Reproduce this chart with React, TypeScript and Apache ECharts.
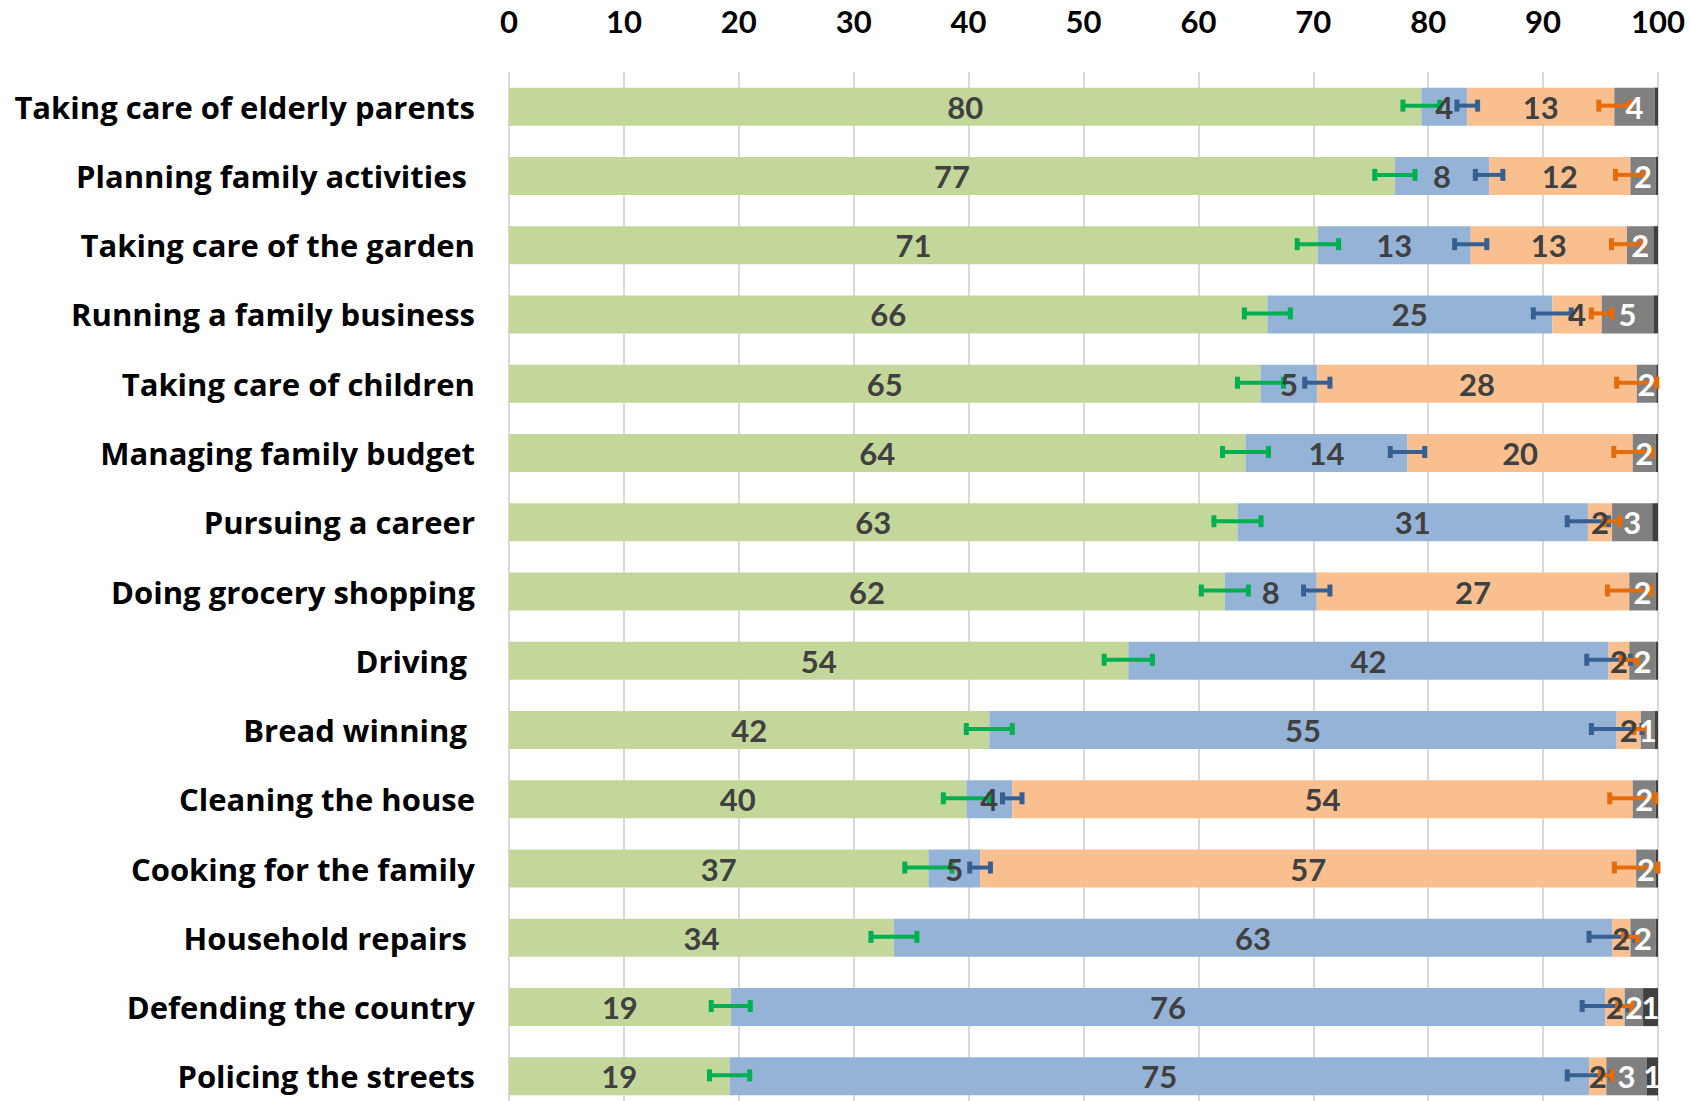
import React, { useEffect, useRef } from 'react';
import * as echarts from 'echarts';

const categories = [
  'Taking care of elderly parents',
  'Planning family activities ',
  'Taking care of the garden',
  'Running a family business',
  'Taking care of children',
  'Managing family budget',
  'Pursuing a career',
  'Doing grocery shopping',
  'Driving ',
  'Bread winning ',
  'Cleaning the house',
  'Cooking for the family',
  'Household repairs ',
  'Defending the country',
  'Policing the streets',
];

const greenValues = [79.4, 77.1, 70.4, 66.0, 65.4, 64.1, 63.4, 62.3, 53.9, 41.8, 39.8, 36.5, 33.5, 19.3, 19.2];
const blueValues = [4.0, 8.2, 13.3, 24.8, 4.95, 14.1, 30.5, 8.0, 41.8, 54.6, 4.0, 4.5, 62.5, 76.1, 74.8];
const orangeValues = [12.8, 12.3, 13.6, 4.3, 27.8, 19.6, 2.1, 27.2, 1.8, 2.1, 54.0, 57.1, 1.6, 1.7, 1.5];
const grayValues = [3.5, 2.2, 2.3, 4.5, 1.7, 2.0, 3.5, 2.3, 2.3, 1.2, 2.0, 1.7, 2.2, 1.6, 3.5];
const darkValues = [0.3, 0.2, 0.4, 0.4, 0.15, 0.2, 0.5, 0.2, 0.2, 0.3, 0.2, 0.2, 0.2, 1.3, 1.0];

const greenLabels = [80, 77, 71, 66, 65, 64, 63, 62, 54, 42, 40, 37, 34, 19, 19];
const blueLabels = [4, 8, 13, 25, 5, 14, 31, 8, 42, 55, 4, 5, 63, 76, 75];
const orangeLabels = [13, 12, 13, 4, 28, 20, 2, 27, 2, 2, 54, 57, 2, 2, 2];
const grayLabels = [4, 2, 2, 5, 2, 2, 3, 2, 2, 1, 2, 2, 2, 2, 3];
const darkLabels: (number | null)[] = [null, null, null, null, null, null, null, null, null, null, null, null, null, 1, 1];

const greenErr = [1.6, 1.75, 1.8, 2.0, 2.0, 2.0, 2.05, 2.05, 2.1, 2.0, 2.0, 2.05, 2.0, 1.7, 1.75];
const blueErr = [0.9, 1.2, 1.4, 1.65, 1.1, 1.5, 1.8, 1.15, 1.9, 2.2, 0.85, 0.9, 2.0, 2.0, 1.9];
const orangeErr = [1.35, 1.3, 1.35, 0.9, 1.75, 1.65, 0.7, 1.9, 0.7, 0.6, 2.0, 1.9, 0.6, 0.6, 0.5];

const xTicks = { min: 0, max: 100, interval: 10 };

const NUM_FONT = 'Lato';
const CAT_FONT = 'Open Sans';

function App() {
  const ref = useRef<HTMLDivElement>(null);
  useEffect(() => {
    const chart = echarts.init(ref.current!, null, { renderer: 'svg' });

    const mkBar = (name: string, values: number[], color: string) => ({
      name,
      type: 'bar',
      stack: 'total',
      barWidth: 38,
      barGap: '-100%',
      data: values,
      z: 2,
      itemStyle: { color },
      label: { show: false },
      emphasis: { disabled: true },
    });

    const mkLabel = (name: string, values: number[], labels: (number | null)[], labelColor: string) => ({
      name,
      type: 'bar',
      stack: 'labels',
      barWidth: 38,
      barGap: '-100%',
      data: values,
      z: 4,
      itemStyle: { color: 'rgba(0,0,0,0)' },
      label: {
        show: true,
        position: 'inside',
        color: labelColor,
        fontFamily: NUM_FONT,
        fontWeight: 'bold',
        fontSize: 31,
        formatter: (p: any) => {
          const v = labels[p.dataIndex];
          return v === null || v === undefined ? '' : String(v);
        },
      },
      emphasis: { disabled: true },
      silent: true,
    });

    const cum1 = greenValues.map((v) => v);
    const cum2 = greenValues.map((v, i) => v + blueValues[i]);
    const cum3 = greenValues.map((v, i) => v + blueValues[i] + orangeValues[i]);

    const mkErr = (name: string, centers: number[], errs: number[], color: string) => ({
      name,
      type: 'custom',
      z: 3,
      data: centers.map((c, i) => [i, c, errs[i]]),
      encode: { x: [1], y: 0 },
      renderItem: (params: any, api: any) => {
        const cat = api.value(0);
        const c = api.value(1);
        const e = api.value(2);
        const p1 = api.coord([c - e, cat]);
        const p2 = api.coord([c + e, cat]);
        const y = p1[1] - 1;
        const h = 6;
        return {
          type: 'group',
          children: [
            { type: 'line', shape: { x1: p1[0], y1: y, x2: p2[0], y2: y }, style: { stroke: color, lineWidth: 4 } },
            { type: 'line', shape: { x1: p1[0], y1: y - h, x2: p1[0], y2: y + h }, style: { stroke: color, lineWidth: 5 } },
            { type: 'line', shape: { x1: p2[0], y1: y - h, x2: p2[0], y2: y + h }, style: { stroke: color, lineWidth: 5 } },
          ],
        };
      },
    });

    chart.setOption({
      animation: false,
      backgroundColor: '#ffffff',
      grid: { left: 509, right: 33, top: 72, bottom: 0, containLabel: false },
      xAxis: {
        type: 'value',
        position: 'top',
        min: xTicks.min,
        max: xTicks.max,
        interval: xTicks.interval,
        axisLine: { show: false },
        axisTick: { show: false },
        axisLabel: { color: '#000', fontFamily: NUM_FONT, fontWeight: 'bold', fontSize: 31, margin: 36 },
        splitLine: { show: true, lineStyle: { color: '#D9D9D9', width: 2 } },
      },
      yAxis: {
        type: 'category',
        inverse: true,
        data: categories,
        axisLine: { show: false },
        axisTick: { show: false },
        axisLabel: { color: '#000', fontFamily: CAT_FONT, fontWeight: 'bold', fontSize: 31, margin: 34 },
      },
      series: [
        mkBar('green', greenValues, '#C4D79B'),
        mkBar('blue', blueValues, '#95B3D7'),
        mkBar('orange', orangeValues, '#FABF8F'),
        mkBar('gray', grayValues, '#808080'),
        mkBar('dark', darkValues, '#404040'),
        mkErr('greenErr', cum1, greenErr, '#00B050'),
        mkErr('blueErr', cum2, blueErr, '#366092'),
        mkErr('orangeErr', cum3, orangeErr, '#E46C0A'),
        mkLabel('greenLbl', greenValues, greenLabels, '#404040'),
        mkLabel('blueLbl', blueValues, blueLabels, '#404040'),
        mkLabel('orangeLbl', orangeValues, orangeLabels, '#404040'),
        mkLabel('grayLbl', grayValues, grayLabels, '#ffffff'),
        mkLabel('darkLbl', darkValues, darkLabels, '#ffffff'),
      ],
    });
    return () => chart.dispose();
  }, []);
  return (
    <div style={{ position: 'fixed', left: 0, top: 0, width: 1691, height: 1101, overflow: 'hidden', background: '#fff' }}>
      <div ref={ref} style={{ width: 1691, height: 1111 }} />
    </div>
  );
}

export default App;
